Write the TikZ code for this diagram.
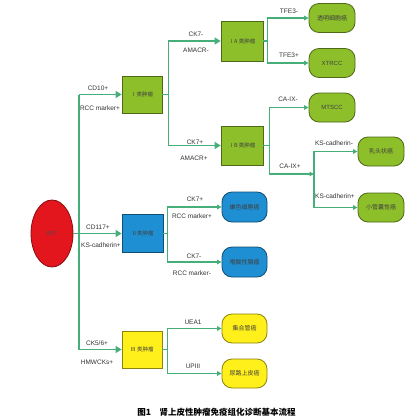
\documentclass[tikz,border=0pt]{standalone}
\usepackage{fontspec}
\setmainfont{Liberation Sans}
\newfontfamily\cjk{Noto Sans CJK SC}
\usetikzlibrary{shapes.geometric,arrows.meta}
\definecolor{linegreen}{HTML}{46AE78}
\definecolor{boxgreen}{HTML}{8DBF2A}
\definecolor{boxblue}{HTML}{1E8FD3}
\definecolor{boxyellow}{HTML}{FFEF1A}
\definecolor{retred}{HTML}{E3161D}

\tikzset{
  box/.style={draw=#1!55!black, fill=#1, line width=0.8pt, minimum width=41pt,
    minimum height=38pt, inner sep=1pt, text=black!75,
    font=\cjk\fontsize{5.5}{6}\selectfont},
  leaf/.style={draw=#1!55!black, fill=#1, line width=0.8pt, rounded corners=10pt,
    minimum width=46pt, minimum height=29pt, inner sep=1pt, text=black!75,
    font=\cjk\fontsize{6}{7}\selectfont},
  lab/.style={inner sep=0pt, text=black!80, font=\fontsize{6.5}{7}\selectfont},
  link/.style={draw=linegreen, line width=1.1pt},
  bigarrow/.style={link, -{Triangle[length=6pt,width=7pt]}},
  smallarrow/.style={link, -{Triangle[length=4.5pt,width=4.5pt]}}
}

\begin{document}
\begin{tikzpicture}[x=1pt,y=-1pt]
  \useasboundingbox (0,0) rectangle (420,420);
  \fill[white] (0,0) rectangle (420,420);

  % root and the three classes
  \node[ellipse, draw=retred!60!black, fill=retred, line width=0.8pt, minimum width=42pt,
    minimum height=67pt, inner sep=0pt, text=black!70, font=\fontsize{5.5}{6}\selectfont] (ret) at (52,233.5) {RET};
  \node[box=boxgreen, minimum width=40pt, minimum height=37pt] (c1) at (142,94.5) {Ⅰ类肿瘤};
  \node[box=boxblue] (c2) at (142.5,233.5) {Ⅱ类肿瘤};
  \node[box=boxyellow, minimum width=40pt, minimum height=37pt] (c3) at (142,349.5) {Ⅲ 类肿瘤};
  \node[box=boxgreen, minimum width=42pt, minimum height=40pt] (c1a) at (242,41) {ⅠA 类肿瘤};
  \node[box=boxgreen, minimum width=42pt, minimum height=39pt] (c1b) at (242,145.5) {ⅠB 类肿瘤};

  % end points
  \node[leaf=boxgreen] (t1) at (332,18) {透明细胞癌};
  \node[leaf=boxgreen, font=\fontsize{6}{7}\selectfont] (t2) at (332,63) {XTRCC};
  \node[leaf=boxgreen, font=\fontsize{6}{7}\selectfont] (t3) at (332,107.5) {MTSCC};
  \node[leaf=boxgreen] (t4) at (381,151.5) {乳头状癌};
  \node[leaf=boxgreen] (t5) at (381,207.5) {小管囊性癌};
  \node[leaf=boxblue, minimum width=45pt, minimum height=30pt] (t6) at (244.5,207) {嫌色细胞癌};
  \node[leaf=boxblue, minimum width=45pt, minimum height=30pt] (t7) at (244.5,262) {嗜酸性腺瘤};
  \node[leaf=boxyellow, minimum width=45pt] (t8) at (244.5,328.5) {集合管癌};
  \node[leaf=boxyellow, minimum width=45pt] (t9) at (244.5,373.5) {尿路上皮癌};

  % connectors
  \coordinate (j1) at (79,94.5);
  \coordinate (j3) at (79,349.5);
  \coordinate (j4) at (314,174);
  \draw[link] (j1) -- (j3);
  \draw[bigarrow] (j1) -- (c1);
  \draw[bigarrow] (ret) -- (c2);
  \draw[bigarrow] (j3) -- (c3);
  \draw[bigarrow] (c1.east) -- ++(6,0) |- (c1a);
  \draw[bigarrow] (c1.east) -- ++(6,0) |- (c1b);
  \draw[smallarrow] (c1a.east) -- ++(4,0) |- (t1);
  \draw[smallarrow] (c1a.east) -- ++(4,0) |- (t2);
  \draw[smallarrow] (c1b.east) -- ++(6,0) |- (t3);
  \draw[smallarrow] (c1b.east) -- ++(6,0) |- (j4);
  \draw[smallarrow] (j4) |- (t4);
  \draw[smallarrow] (j4) |- (t5);
  \draw[smallarrow] (c2.east) -- ++(4,0) |- (t6);
  \draw[smallarrow] (c2.east) -- ++(4,0) |- (t7);
  \draw[smallarrow] (c3.east) -- ++(5,0) |- (t8);
  \draw[smallarrow] (c3.east) -- ++(5,0) |- (t9);

  % marker labels
  \node[lab] (l1) at (98,88) {CD10+};
  \node[lab] (l2) at (100,108) {RCC marker+};
  \node[lab] (l3) at (98,227) {CD117+};
  \node[lab] (l4) at (101,245) {KS-cadherin+};
  \node[lab] (l5) at (97,343) {CK5/6+};
  \node[lab] (l6) at (97,362) {HMWCKs+};
  \node[lab] (l7) at (196,34) {CK7-};
  \node[lab] (l8) at (196,50) {AMACR-};
  \node[lab] (l9) at (195,142) {CK7+};
  \node[lab] (l10) at (194,158) {AMACR+};
  \node[lab] (l11) at (289,11) {TFE3-};
  \node[lab] (l12) at (289,55) {TFE3+};
  \node[lab] (l13) at (288,99) {CA-IX-};
  \node[lab] (l14) at (290,166) {CA-IX+};
  \node[lab] (l15) at (334,143) {KS-cadherin-};
  \node[lab] (l16) at (335,196) {KS-cadherin+};
  \node[lab] (l17) at (195,199) {CK7+};
  \node[lab] (l18) at (192,216) {RCC marker+};
  \node[lab] (l19) at (194,256) {CK7-};
  \node[lab] (l20) at (192,273) {RCC marker-};
  \node[lab] (l21) at (193,322) {UEA1};
  \node[lab] (l22) at (193,366) {UPIII};

  % caption
  \node[inner sep=0pt, font=\cjk\bfseries\fontsize{8.5}{9}\selectfont] (cap) at (216.5,412) {图1\quad 肾上皮性肿瘤免疫组化诊断基本流程};
\end{tikzpicture}
\end{document}
